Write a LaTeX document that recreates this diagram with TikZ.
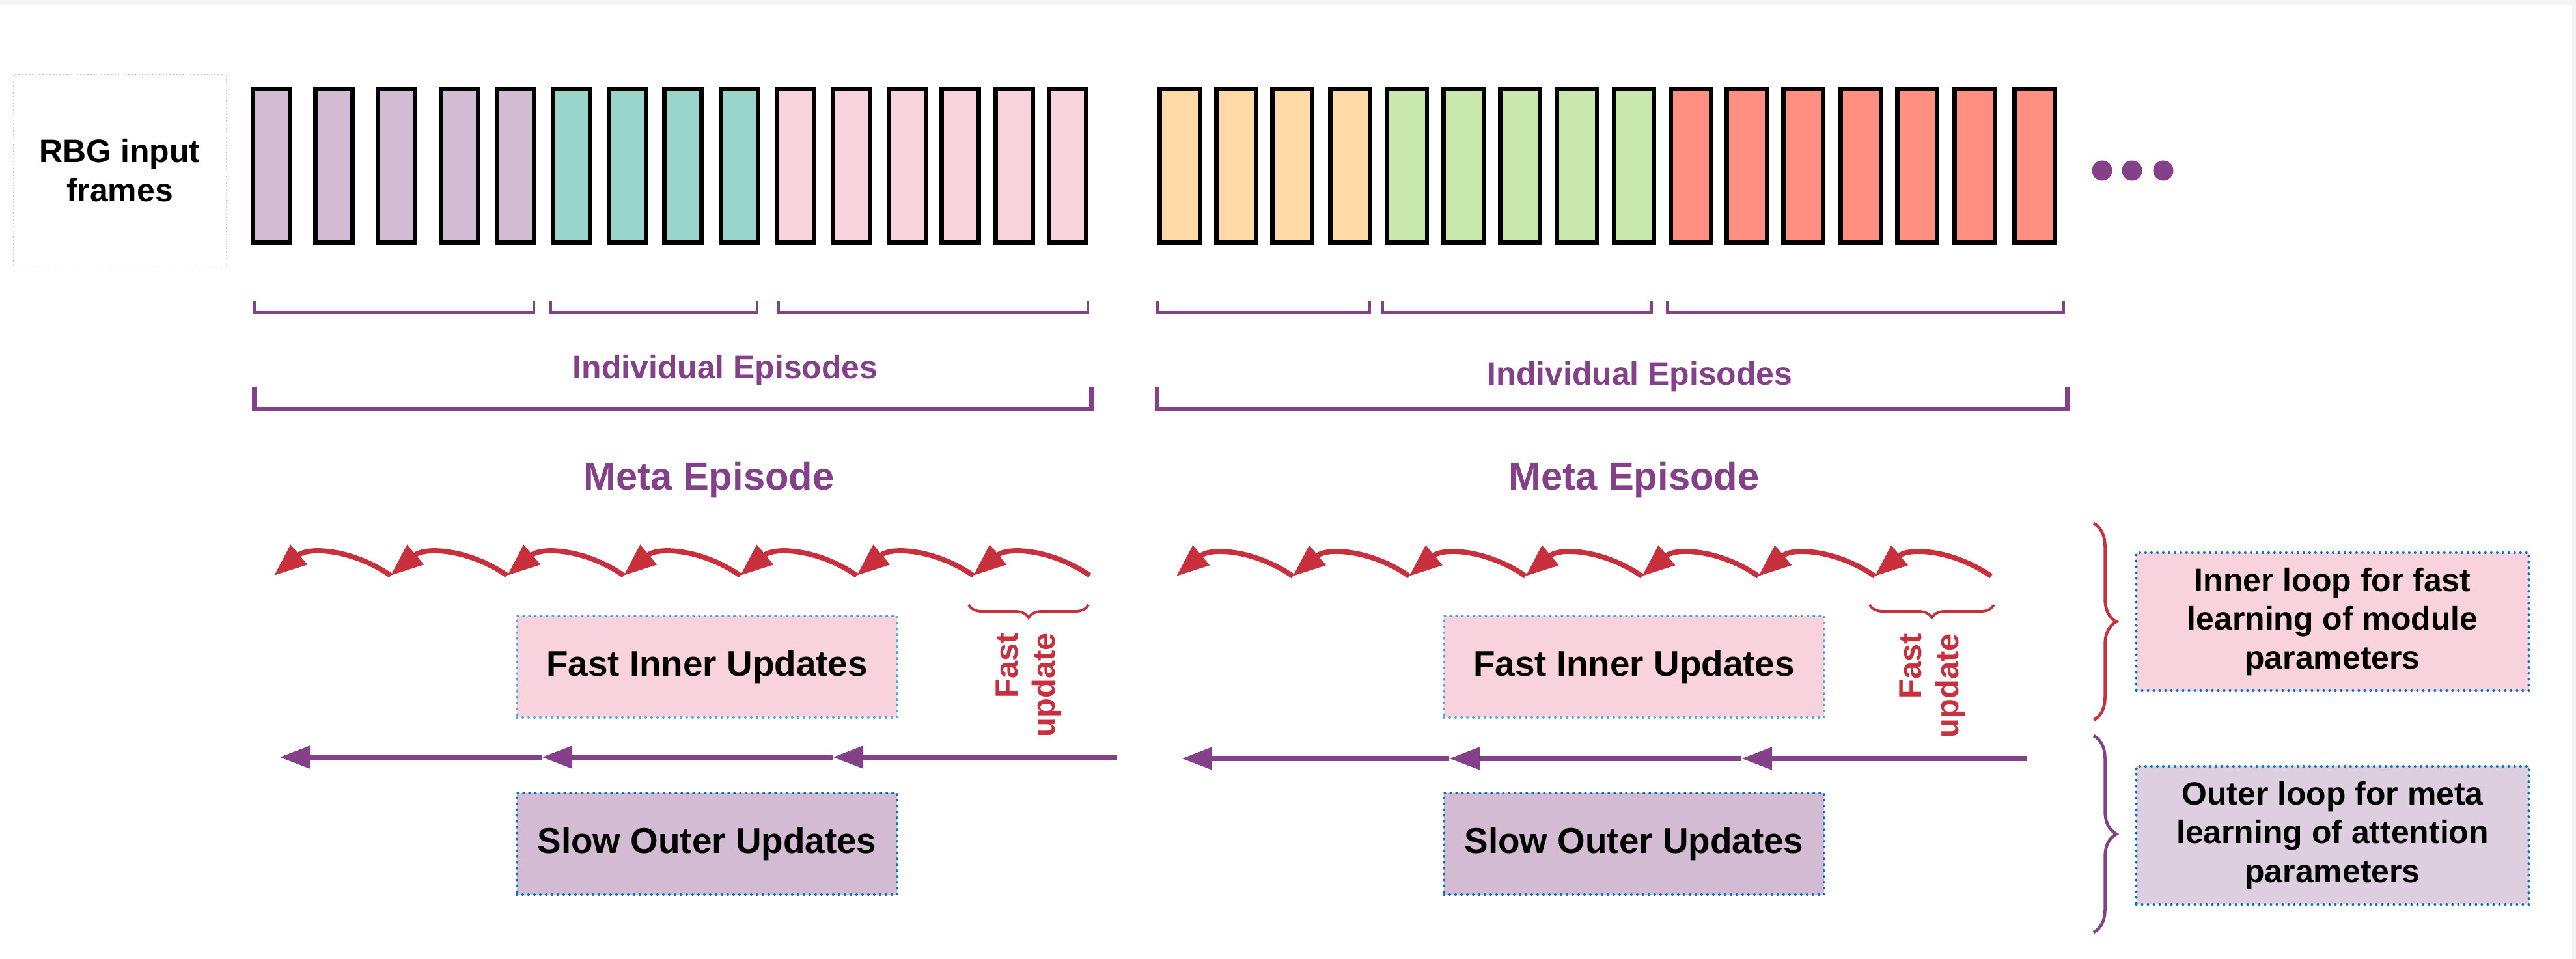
\documentclass[tikz,border=0pt]{standalone}
\usepackage{fontspec}
\setmainfont{Liberation Sans}
\usetikzlibrary{arrows.meta,positioning,decorations.pathreplacing}
\definecolor{frpurple}{RGB}{211,187,211}
\definecolor{frteal}{RGB}{153,213,201}
\definecolor{frpink}{RGB}{248,210,221}
\definecolor{frorange}{RGB}{255,217,166}
\definecolor{frgreen}{RGB}{200,232,173}
\definecolor{frred}{RGB}{255,143,128}
\definecolor{metapurple}{RGB}{132,65,138}
\definecolor{fastred}{RGB}{201,48,62}
\definecolor{outerfill}{RGB}{221,207,224}
\definecolor{dotblue}{RGB}{0,115,190}
\definecolor{dotlight}{RGB}{70,170,225}
\definecolor{edgegray}{RGB}{244,244,244}

\begin{document}
\begin{tikzpicture}[
  font=\bfseries\fontsize{14.2}{17}\selectfont,
  framebar/.style={draw, line width=1.85pt, minimum width=0.57cm, minimum height=2.355cm, inner sep=0pt},
  widebar/.style={framebar, minimum width=0.615cm},
  indbrk/.style={metapurple, line width=1.3pt},
  metabrk/.style={metapurple, line width=2pt},
  epilabel/.style={text=metapurple, anchor=base},
  metalabel/.style={epilabel, font=\bfseries\fontsize{17}{20}\selectfont},
  dotted box/.style={line width=1.15pt, dash pattern=on 0pt off 2.56pt, line cap=round},
  updbox/.style={dotted box, draw=dotblue, minimum width=5.84cm, minimum height=1.56cm, font=\bfseries\fontsize{15.6}{18}\selectfont},
  loopbox/.style={dotted box, draw=dotblue, minimum width=6.03cm, minimum height=2.12cm, align=center},
  fastarc/.style={fastred, line width=2.2pt, -{Triangle[length=0.5cm,width=0.38cm]}},
  slowarrow/.style={metapurple, line width=2.3pt, -{Triangle[length=0.47cm,width=0.33cm]}},
  fastbrace/.style={fastred, line width=1.1pt, decorate, decoration={brace, amplitude=0.2cm}},
  loopbrace/.style={line width=1.3pt, decorate, decoration={brace, amplitude=0.35cm}},
  fastlabel/.style={rotate=90, align=right, text=fastred, font=\bfseries\fontsize{13.9}{16.2}\selectfont}
]

% page with the grey edge at top and right
\useasboundingbox (0,0) rectangle (39.57,-14.73);
\fill[edgegray] (0,0) rectangle (39.57,-14.73);
\fill[white] (0,-0.08) rectangle (39.51,-14.73);

\node[draw=gray!45, densely dotted, line width=0.5pt, minimum width=3.27cm, minimum height=2.94cm, align=center] (rgb) at (1.84,-2.615) {RBG input\\frames};

% frames of the first meta episode
\foreach \x/\col [count=\i] in {4.17/frpurple, 5.13/frpurple, 6.09/frpurple, 7.06/frpurple, 7.92/frpurple,
    8.78/frteal, 9.64/frteal, 10.49/frteal, 11.36/frteal,
    12.22/frpink, 13.08/frpink, 13.94/frpink, 14.75/frpink, 15.58/frpink, 16.40/frpink}
  \node[framebar, fill=\col] (fa\i) at (\x,-2.55) {};

% frames of the second meta episode
\foreach \x/\col [count=\i] in {18.12/frorange, 18.99/frorange, 19.85/frorange, 20.74/frorange,
    21.61/frgreen, 22.48/frgreen, 23.35/frgreen, 24.22/frgreen, 25.10/frgreen,
    25.97/frred, 26.83/frred, 27.70/frred, 28.58/frred, 29.45/frred, 30.33/frred, 31.25/frred}
  \node[widebar, fill=\col] (fb\i) at (\x,-2.55) {};

\foreach \x in {32.29,32.75,33.23}
  \fill[metapurple] (\x,-2.62) circle (0.155);

% episode brackets
\foreach \a/\b in {3.91/8.20, 8.46/11.63, 11.96/16.71, 17.78/21.04, 21.24/25.37, 25.61/31.70}
  \draw[indbrk] (\a,-4.62) |- (\b,-4.80) -- (\b,-4.62);
\draw[metabrk] (3.91,-5.94) |- (16.76,-6.285) -- (16.76,-5.94);
\draw[metabrk] (17.77,-5.94) |- (31.75,-6.285) -- (31.75,-5.94);

\node[epilabel] (ind1) at (11.14,-5.82) {Individual Episodes};
\node[epilabel] (ind2) at (25.19,-5.92) {Individual Episodes};
\node[metalabel] (meta1) at (10.89,-7.53) {Meta Episode};
\node[metalabel] (meta2) at (25.10,-7.53) {Meta Episode};

% inner loop hops
\foreach \i in {0,...,7} {
  \coordinate (pa\i) at ({4.21+1.79*\i},-8.84);
  \coordinate (pb\i) at ({18.07+1.788*\i},-8.85);
}
\foreach \i [evaluate=\i as \j using int(\i+1)] in {0,...,6} {
  \draw[fastarc] (pa\j) to[out=145,in=40] (pa\i);
  \draw[fastarc] (pb\j) to[out=145,in=40] (pb\i);
}

\draw[fastbrace] (16.72,-9.29) -- (14.88,-9.29);
\draw[fastbrace] (30.63,-9.29) -- (28.72,-9.29);
\node[fastlabel] (fu1) at (15.80,-10.52) {Fast\\update};
\node[fastlabel] (fu2) at (29.68,-10.53) {Fast\\update};

\node[updbox, draw=dotlight, fill=frpink] (fast1) at (10.86,-10.24) {Fast Inner Updates};
\node[updbox, draw=dotlight, fill=frpink] (fast2) at (25.10,-10.24) {Fast Inner Updates};
\node[updbox, fill=frpurple, below=1.12cm of fast1] (slow1) {Slow Outer Updates};
\node[updbox, fill=frpurple, below=1.12cm of fast2] (slow2) {Slow Outer Updates};

% outer loop
\coordinate (oa0) at (17.16,-11.63);
\coordinate (oa1) at (12.79,-11.63);
\coordinate (oa2) at (8.32,-11.63);
\coordinate (oa3) at (4.29,-11.63);
\coordinate (ob0) at (31.14,-11.65);
\coordinate (ob1) at (26.75,-11.65);
\coordinate (ob2) at (22.26,-11.65);
\coordinate (ob3) at (18.15,-11.65);
\draw[slowarrow] (oa0) -- (oa1);
\draw[slowarrow] (oa1) -- (oa2);
\draw[slowarrow] (oa2) -- (oa3);
\draw[slowarrow] (ob0) -- (ob1);
\draw[slowarrow] (ob1) -- (ob2);
\draw[slowarrow] (ob2) -- (ob3);

% legend on the right
\draw[loopbrace, fastred] (32.16,-8.04) -- (32.16,-11.06);
\draw[loopbrace, metapurple] (32.16,-11.30) -- (32.16,-14.32);
\node[loopbox, fill=frpink] (innerloop) at (35.83,-9.55) {Inner loop for fast\\learning of module\\parameters};
\node[loopbox, fill=outerfill, below=1.12cm of innerloop] (outerloop) {Outer loop for meta\\learning of attention\\parameters};

\end{tikzpicture}
\end{document}
